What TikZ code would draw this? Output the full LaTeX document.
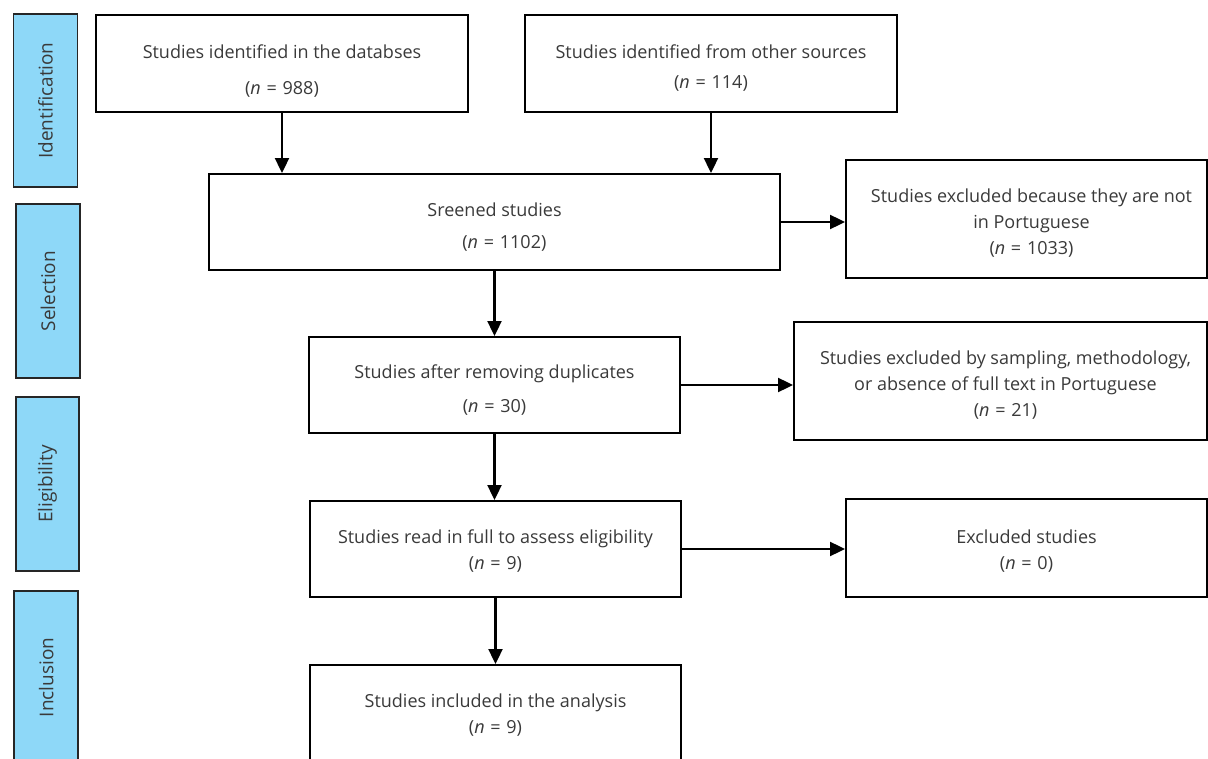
\documentclass[tikz,border=0pt]{standalone}
\usepackage{fontspec}
\setmainfont{Open Sans}
\usetikzlibrary{arrows.meta}
\definecolor{barblue}{HTML}{8ED8F8}
\definecolor{txt}{HTML}{3A3A3A}
\newcommand{\nn}[1]{(\textit{n}\hspace{0.32em}=\hspace{0.32em}#1)}
\tikzset{
  box/.style={draw=black, line width=1.9pt, rectangle, inner sep=0pt},
  lbl/.style={align=center, text=txt, font=\fontsize{18}{26}\selectfont, inner sep=0pt},
  phase/.style={draw=black!85, line width=1.9pt, fill=barblue, rectangle, text=txt,
    font=\fontsize{19}{22}\selectfont, rotate=90, inner sep=0pt},
  arr/.style={line width=2.1pt, -{Triangle[length=15pt,width=14pt]}}
}
\begin{document}
\begin{tikzpicture}[x=1pt,y=-1pt]
\useasboundingbox (0,0) rectangle (1208,759);
\clip (0,0) rectangle (1208,759);
\fill[white] (0,0) rectangle (1208,759);
% phase bars
\node[phase, minimum width=173pt, minimum height=64pt] (b1) at (45.5,100.5) {Identification};
\node[phase, minimum width=174pt, minimum height=63.5pt] (b2) at (48,291) {Selection};
\node[phase, minimum width=174pt, minimum height=63.6pt] (b3) at (47.5,484) {Eligibility};
\node[phase, minimum width=173pt, minimum height=64pt] (b4) at (46.3,677.5) {Inclusion};
% boxes
\node[box, minimum width=372pt, minimum height=97pt] (id1) at (282,63.5) {};
\node[box, minimum width=372pt, minimum height=97pt] (id2) at (711,63.5) {};
\node[box, minimum width=571pt, minimum height=96pt] (scr) at (494.5,222) {};
\node[box, minimum width=361pt, minimum height=118pt] (ex1) at (1026.5,219) {};
\node[box, minimum width=371pt, minimum height=96pt] (dup) at (494.5,385) {};
\node[box, minimum width=413pt, minimum height=118pt] (ex2) at (1000.5,381) {};
\node[box, minimum width=371pt, minimum height=96pt] (full) at (495.5,549) {};
\node[box, minimum width=361pt, minimum height=98pt] (ex3) at (1026.5,548) {};
\node[box, minimum width=371pt, minimum height=96pt] (inc) at (495.5,713) {};
% texts
\node[lbl] (id1t) at ([yshift=-8pt]id1.center)
  {Studies identified in the databses\\[10pt]\nn{988}};
\node[lbl] (id2t) at ([yshift=-5pt]id2.center)
  {Studies identified from other sources\\[4pt]\nn{114}};
\node[lbl] (scrt) at ([yshift=-5.5pt]scr.center)
  {Sreened studies\\[6pt]\hspace*{1.1em}\nn{1102}};
\node[lbl] (ex1t) at ([xshift=5pt,yshift=-4pt]ex1.center)
  {Studies excluded because they are not\\in Portuguese\\\nn{1033}};
\node[lbl] (dupt) at ([yshift=-5.5pt]dup.center)
  {Studies after removing duplicates\\[8pt]\nn{30}};
\node[lbl] (ex2t) at ([xshift=5pt,yshift=-4.5pt]ex2.center)
  {Studies excluded by sampling, methodology,\\or absence of full text in Portuguese\\\nn{21}};
\node[lbl] (fullt) at ([yshift=-2pt]full.center)
  {Studies read in full to assess eligibility\\\nn{9}};
\node[lbl] (ex3t) at ([yshift=-3.5pt]ex3.center)
  {Excluded studies\\\nn{0}};
\node[lbl] (inct) at ([yshift=-2pt]inc.center)
  {Studies included in the analysis\\\nn{9}};
% connectors
\draw[arr] (id1.south) -- (id1.south |- scr.north);
\draw[arr] (id2.south) -- (id2.south |- scr.north);
\draw[arr] (scr.south) -- (scr.south |- dup.north);
\draw[arr] (scr.east) -- (scr.east -| ex1.west);
\draw[arr] (dup.south) -- (dup.south |- full.north);
\draw[arr] (dup.east) -- (dup.east -| ex2.west);
\draw[arr] (full.south) -- (full.south |- inc.north);
\draw[arr] (full.east) -- (full.east -| ex3.west);
\end{tikzpicture}
\end{document}
